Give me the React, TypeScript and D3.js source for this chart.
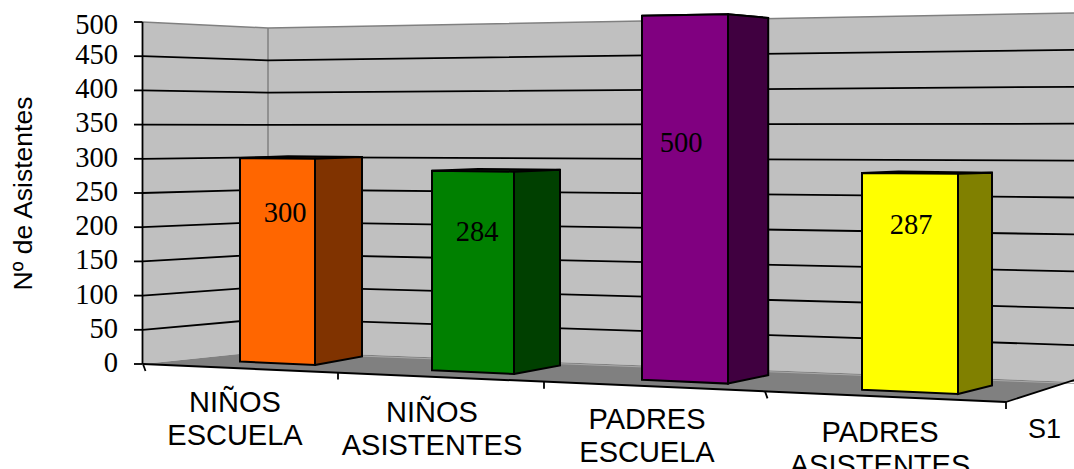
import React from "react";
import * as d3 from "d3";

const categories = [["NIÑOS", "ESCUELA"], ["NIÑOS", "ASISTENTES"], ["PADRES", "ESCUELA"], ["PADRES", "ASISTENTES"]];
const values = [300, 284, 500, 287];
const frontColors = ["#ff6600", "#008000", "#800080", "#ffff00"];
const sideColors = ["#803300", "#004000", "#400040", "#808000"];
const yTicks = [0, 50, 100, 150, 200, 250, 300, 350, 400, 450, 500];

const W = 1074, H = 469, VMAX = 500;
const SERIF = "'Liberation Serif', serif";
const SANS = "'Liberation Sans', sans-serif";

// wall planes
const yLeft = d3.scaleLinear().domain([0, VMAX]).range([364, 22]);
const yCorner = d3.scaleLinear().domain([0, VMAX]).range([351, 28]);
const yRight = d3.scaleLinear().domain([0, VMAX]).range([382, 13]);
const yTickLabel = d3.scaleLinear().domain([0, 450, VMAX]).range([372, 64, 33.5]);
const X_LEFT = 142.5, X_CORNER = 268, X_FRONT_END = 1006;

// category axis on the front floor edge
const xFront = d3.scaleLinear().domain([0, 1, 2, 3, 4]).range([143, 338, 544, 765, X_FRONT_END]);
const yFront = d3.scaleLinear().domain([143, X_FRONT_END]).range([364, 402]);

// front plane of the bars (perspective: bars grow to the right)
const xBar = d3.scaleLinear()
  .domain([0.25, 0.75, 1.25, 1.75, 2.25, 2.75, 3.25, 3.75])
  .range([240, 315, 432, 514, 642, 728, 862, 958]);
const baseBar = d3.scaleLinear().domain([240, 958]).range([361.5, 394]);
const fullHeight = d3.scaleLinear().domain([240, 642, 958]).range([339, 364, 383.5]);
const depthX = d3.scaleLinear().domain([240, 315, 514, 958]).range([48, 47, 46, 34]);
const DEPTH_RISE = 8.5, DEPTH_SHRINK = 0.967;

const valueLabelX = d3.scaleLinear().domain([0, 1, 2, 3]).range([285, 477, 681, 911]);
const valueLabelY = d3.scaleLinear().domain([0, 1, 2, 3]).range([222, 241, 152, 234]);
const catLabelX = d3.scaleLinear().domain([0, 1, 2, 3]).range([235, 432, 647, 880]);
const catLabelY = d3.scaleLinear().domain([0, 1, 2, 3]).range([412, 422, 429, 442]);
const LINE_STEP = 32.5;

type P = [number, number];
const front = (x: number, v: number): P => [x, baseBar(x) - (v / VMAX) * fullHeight(x)];
const back = (x: number, v: number): P => [
  x + depthX(x),
  baseBar(x) - DEPTH_RISE - (v / VMAX) * fullHeight(x) * DEPTH_SHRINK,
];
const closed = d3.line<P>();
const poly = (pts: P[]) => closed(pts) + "Z";

export default function App() {
  return (
    <svg width={W} height={H} viewBox={`0 0 ${W} ${H}`}
      style={{ position: "absolute", left: 0, top: 0, background: "#fff" }}>
      {/* walls */}
      <path d={poly([[X_LEFT, yLeft(VMAX)], [X_CORNER, yCorner(VMAX)], [W, yRight(VMAX)], [W, yRight(0)], [X_CORNER, yCorner(0)], [X_LEFT, yLeft(0)]])} fill="#c0c0c0" />
      {/* floor */}
      <path d={poly([[143, yLeft(0)], [X_CORNER, yCorner(0)], [W, yRight(0)], [W, 380], [X_FRONT_END, yFront(X_FRONT_END)]])} fill="#808080" />
      <path d={closed([[X_CORNER, yCorner(0) + 1.5], [W, yRight(0) + 1.5]])!} stroke="#a8a8a8" strokeWidth={1} fill="none" />
      {/* corner */}
      <line x1={X_CORNER} x2={X_CORNER} y1={yCorner(VMAX)} y2={yCorner(0)} stroke="#808080" strokeWidth={1.5} />
      {/* gridlines */}
      {yTicks.filter(t => t > 0).map(t => (
        <path key={t} d={closed([[X_LEFT, yLeft(t)], [X_CORNER, yCorner(t)], [W, yRight(t)]])!} fill="none"
          stroke={t === VMAX ? "#808080" : "#000"} strokeWidth={t === VMAX ? 1.5 : 1.8} />
      ))}
      {/* value axis */}
      <line x1={X_LEFT} x2={X_LEFT} y1={yLeft(VMAX)} y2={yLeft(0)} stroke="#000" strokeWidth={1.8} />
      {yTicks.map(t => (
        <g key={t}>
          <line x1={134} x2={X_LEFT} y1={yLeft(t)} y2={yLeft(t)} stroke="#000" strokeWidth={1.8} />
          <text x={118} y={yTickLabel(t)} textAnchor="end" fontFamily={SERIF} fontSize={28.5} fill="#000">{t}</text>
        </g>
      ))}
      {/* category axis */}
      <line x1={143} y1={yFront(143)} x2={X_FRONT_END} y2={yFront(X_FRONT_END)} stroke="#000" strokeWidth={2} />
      <line x1={X_FRONT_END} y1={yFront(X_FRONT_END)} x2={W} y2={380} stroke="#000" strokeWidth={1.8} />
      {d3.range(5).map(i => {
        const x = xFront(i), y = yFront(x);
        return <line key={i} x1={x} y1={y} x2={x + (i === 0 || i === 3 ? 2.5 : 0)} y2={y + 7} stroke="#000" strokeWidth={1.8} />;
      })}
      {/* bars */}
      {values.map((v, i) => {
        const l = xBar(i + 0.25), r = xBar(i + 0.75);
        return (
          <g key={i} stroke="#000" strokeWidth={2} strokeLinejoin="miter">
            <path d={poly([front(l, v), front(r, v), back(r, v), back(l, v)])} fill={sideColors[i]} />
            <path d={poly([front(r, 0), back(r, 0), back(r, v), front(r, v)])} fill={sideColors[i]} />
            <path d={poly([front(l, 0), front(r, 0), front(r, v), front(l, v)])} fill={frontColors[i]} />
          </g>
        );
      })}
      {/* value labels */}
      {values.map((v, i) => (
        <text key={i} x={valueLabelX(i)} y={valueLabelY(i)} textAnchor="middle" fontFamily={SERIF} fontSize={28.5} fill="#000">{v}</text>
      ))}
      {/* category labels */}
      {categories.map((lines, i) => lines.map((s, j) => (
        <text key={s + i} x={catLabelX(i)} y={catLabelY(i) + j * LINE_STEP} textAnchor="middle" fontFamily={SANS} fontSize={29} fill="#000">{s}</text>
      )))}
      <text x={1028} y={438} fontFamily={SANS} fontSize={27} fill="#000">S1</text>
      <text transform="translate(32,193.5) rotate(-90)" textAnchor="middle" fontFamily={SANS} fontSize={26.5} fill="#000">Nº de Asistentes</text>
    </svg>
  );
}
